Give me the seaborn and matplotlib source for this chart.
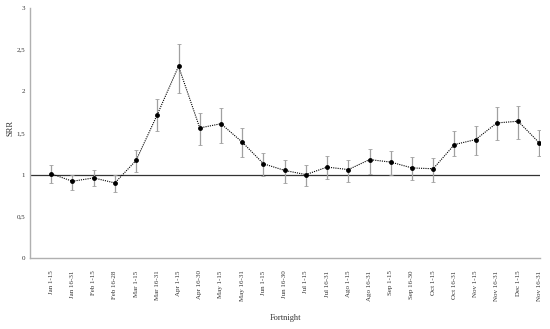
import matplotlib
matplotlib.use("Agg")
import matplotlib.pyplot as plt
import seaborn as sns
import pandas as pd
import numpy as np

fortnights = ["Jan 1-15", "Jan 16-31", "Feb 1-15", "Feb 16-28", "Mar 1-15", "Mar 16-31",
              "Apr 1-15", "Apr 16-30", "May 1-15", "May 16-31", "Jun 1-15", "Jun 16-30",
              "Jul 1-15", "Jul 16-31", "Ago 1-15", "Ago 16-31", "Sep 1-15", "Sep 16-30",
              "Oct 1-15", "Oct 16-31", "Nov 1-15", "Nov 16-31", "Dec 1-15", "Nov 16-31"]
srr = [1.01, 0.92, 0.96, 0.90, 1.17, 1.72, 2.30, 1.56, 1.61, 1.39, 1.13, 1.05,
       1.00, 1.09, 1.06, 1.18, 1.15, 1.08, 1.07, 1.36, 1.42, 1.62, 1.64, 1.38]
ci_low = [0.90, 0.82, 0.86, 0.79, 1.03, 1.52, 1.98, 1.35, 1.38, 1.21, 0.98, 0.90,
          0.86, 0.95, 0.91, 1.01, 1.00, 0.94, 0.91, 1.22, 1.23, 1.42, 1.43, 1.22]
ci_high = [1.12, 1.00, 1.06, 1.00, 1.29, 1.91, 2.57, 1.74, 1.80, 1.56, 1.26, 1.17,
           1.12, 1.22, 1.18, 1.31, 1.28, 1.21, 1.20, 1.52, 1.58, 1.81, 1.82, 1.53]

df = pd.DataFrame({"pos": range(len(fortnights)), "srr": srr,
                   "lo": ci_low, "hi": ci_high})

sns.set_style("white")
plt.rcParams['font.family'] = ['Liberation Serif', 'DejaVu Serif']

fig = plt.figure(figsize=(5.5, 3.29), dpi=100)
ax = fig.add_axes([0.0545, 0.216, 0.928, 0.76])

# error bars (grey)
ax.errorbar(df.pos, df.srr, yerr=[df.srr - df.lo, df.hi - df.srr], fmt='none',
            ecolor='#a0a0a0', elinewidth=0.9, capsize=1.5, capthick=0.6, zorder=2)
ax.axhline(1, color='#333333', lw=0.9, zorder=1)
sns.lineplot(data=df, x="pos", y="srr", ax=ax, color='black', linestyle=(0, (1, 1)),
             lw=0.8, marker='o', markersize=3.5, markeredgewidth=0, zorder=3)

ax.set_xlim(-1, 23.05)
ax.set_ylim(0, 3)
ax.set_xticks(df.pos)
ax.set_xticklabels(fortnights, rotation=90, fontsize=5, color='#333333')
ax.set_yticks([0, 0.5, 1, 1.5, 2, 2.5, 3])
ax.set_yticklabels(["0", "0,5", "1", "1,5", "2", "2,5", "3"], fontsize=5, color='#333333')
ax.tick_params(axis='y', length=0, pad=3.5)
ax.tick_params(axis='x', length=0, pad=9)
ax.set_xlabel("Fortnight", fontsize=6, color='#333333', va='center')
ax.set_ylabel("SRR", fontsize=6, color='#333333', va='center')
ax.xaxis.set_label_coords(0.5, -0.24)
ax.yaxis.set_label_coords(-0.038, 0.52)

for s in ['top', 'right']:
    ax.spines[s].set_visible(False)
for s in ['left', 'bottom']:
    ax.spines[s].set_color('#b0b0b0')
    ax.spines[s].set_linewidth(1.0)

fig.savefig("out.png", dpi=100)
